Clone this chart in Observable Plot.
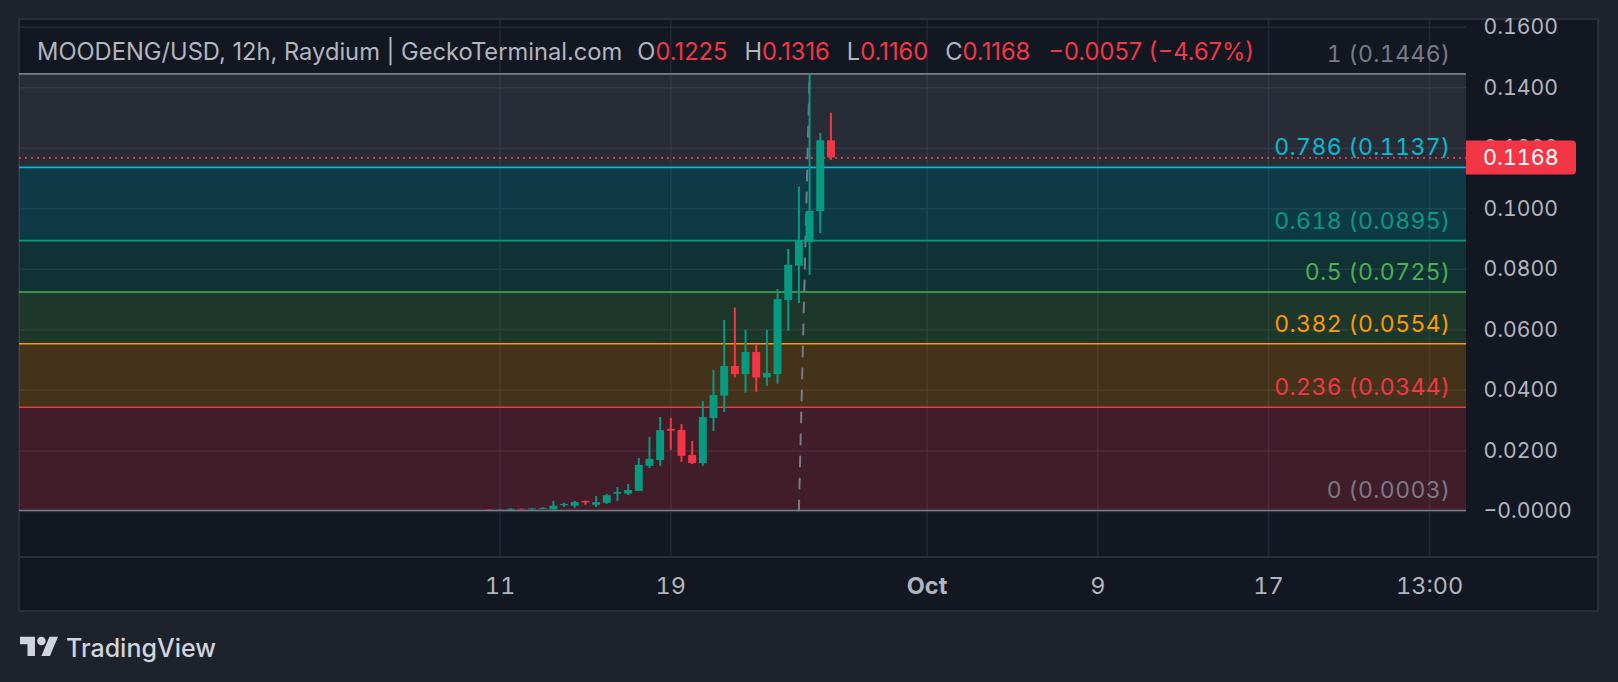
<!DOCTYPE html>
<html>
<head>
<meta charset="utf-8">
<script src="https://cdn.jsdelivr.net/npm/d3@7"></script>
<script src="https://cdn.jsdelivr.net/npm/@observablehq/plot@0.6"></script>
<style>
html, body { margin: 0; padding: 0; background: #1e222d; }
#wrap { position: relative; width: 1618px; height: 682px; overflow: hidden; font-family: Inter, "Noto Sans", sans-serif; }
#panel { position: absolute; left: 18px; top: 18px; width: 1581px; height: 594px; background: #131722; border: 2px solid #2a2e39; box-sizing: border-box; }
#chart { position: absolute; left: 0; top: 0; }
.tnum { font-variant-numeric: tabular-nums; }
</style>
</head>
<body>
<div id="wrap"><div id="panel"></div><div id="chart"></div></div>
<script>
// ---- data ----
const candleStart = Date.UTC(2024, 8, 10, 12); // first 12h candle
const opens  = [0.0004,0.0003,0.0004,0.0007,0.0005,0.0007,0.0005,0.0019,0.0017,0.0033,0.0020,0.0027,0.0057,0.0057,0.0066,0.0149,0.0168,0.0271,0.0267,0.0185,0.0158,0.0307,0.0381,0.0479,0.0452,0.0525,0.0441,0.0452,0.0697,0.0810,0.0888,0.0991,0.1225];
const highs  = [0.0005,0.0005,0.0009,0.0008,0.0009,0.0012,0.0033,0.0027,0.0033,0.0034,0.0049,0.0056,0.0079,0.0089,0.0175,0.0244,0.0310,0.0307,0.0287,0.0231,0.0363,0.0466,0.0631,0.0672,0.0599,0.0552,0.0598,0.0733,0.0866,0.1072,0.1446,0.1249,0.1316];
const lows   = [0.0003,0.0003,0.0004,0.0005,0.0005,0.0006,0.0004,0.0013,0.0010,0.0020,0.0013,0.0023,0.0033,0.0052,0.0066,0.0142,0.0149,0.0201,0.0162,0.0155,0.0149,0.0264,0.0327,0.0441,0.0391,0.0394,0.0413,0.0420,0.0595,0.0687,0.0780,0.0918,0.1160];
const closes = [0.0003,0.0004,0.0007,0.0005,0.0008,0.0010,0.0017,0.0023,0.0029,0.0028,0.0029,0.0052,0.0062,0.0069,0.0152,0.0172,0.0267,0.0265,0.0182,0.0158,0.0310,0.0383,0.0479,0.0452,0.0525,0.0441,0.0456,0.0700,0.0813,0.0895,0.0991,0.1225,0.1168];

const fibRatios = ["1", "0.786", "0.618", "0.5", "0.382", "0.236", "0"];
const fibPrices = [0.1446, 0.1137, 0.0895, 0.0725, 0.0554, 0.0344, 0.0003];
const fibColors = ["#787b86", "#00bcd4", "#089981", "#4caf50", "#ff9800", "#f23645", "#787b86"];

const trendDates  = [Date.UTC(2024, 8, 25, 0), Date.UTC(2024, 8, 25, 12)];
const trendPrices = [0.0003, 0.1446];

const yTicks = [0, 0.02, 0.04, 0.06, 0.08, 0.10, 0.12, 0.14, 0.16];
const xTickDates  = [Date.UTC(2024, 8, 11), Date.UTC(2024, 8, 19), Date.UTC(2024, 9, 1), Date.UTC(2024, 9, 9), Date.UTC(2024, 9, 17), Date.UTC(2024, 9, 24, 13)];
const xTickLabels = ["11", "19", "Oct", "9", "17", "13:00"];
const xBoldLabels = ["Oct"];

const titleText = "MOODENG/USD, 12h, Raydium | GeckoTerminal.com";
const ohlcKeys   = ["O", "H", "L", "C"];
const ohlcValues = ["0.1225", "0.1316", "0.1160", "0.1168"];
const changeText = "\u22120.0057 (\u22124.67%)";
const lastPrice = 0.1168;

const xDomain = [Date.UTC(2024, 7, 19, 11, 51), Date.UTC(2024, 9, 26, 6, 29)];
const yDomain = [-0.015235, 0.16256];

// ---- derived tables ----
const UP = "#089981", DOWN = "#f23645";
const candles = opens.map((o, i) => ({
  date: new Date(candleStart + i * 12 * 3600e3),
  open: o, high: highs[i], low: lows[i], close: closes[i],
  color: closes[i] >= o ? UP : DOWN
}));
const levels = fibRatios.map((r, i) => ({ ratio: r, price: fibPrices[i], color: fibColors[i] }));
const bands = levels.slice(0, -1).map((d, i) => ({ hi: d.price, lo: levels[i + 1].price, color: d.color }));
const trend = trendDates.map((d, i) => ({ date: new Date(d), price: trendPrices[i] }));
const xTicks = xTickDates.map(d => new Date(d));
const labelOf = d => xTickLabels[xTicks.findIndex(t => +t === +d)];
const normalTicks = xTicks.filter(d => !xBoldLabels.includes(labelOf(d)));
const boldTicks = xTicks.filter(d => xBoldLabels.includes(labelOf(d)));

const priceTag = (index, scales, values, dims) => {
  const y = scales.y(lastPrice);
  const x0 = dims.width - dims.marginRight;
  const w = 110, h = 34, r = 4;
  const g = d3.create("svg:g");
  g.append("path")
    .attr("fill", DOWN)
    .attr("d", `M${x0},${y - h / 2}H${x0 + w - r}Q${x0 + w},${y - h / 2} ${x0 + w},${y - h / 2 + r}V${y + h / 2 - r}Q${x0 + w},${y + h / 2} ${x0 + w - r},${y + h / 2}H${x0}Z`);
  g.append("text")
    .attr("class", "tnum")
    .attr("x", x0 + 17).attr("y", y).attr("dy", "0.36em").attr("text-anchor", "start")
    .attr("fill", "#ffffff").attr("font-size", 21.6)
    .text(lastPrice.toFixed(4));
  return g.node();
};

const chart = Plot.plot({
  width: 1618, height: 682,
  marginLeft: 19, marginRight: 152, marginTop: 19, marginBottom: 125,
  style: { background: "transparent", fontFamily: "Inter, 'Noto Sans', sans-serif", overflow: "visible" },
  x: { type: "utc", domain: xDomain, axis: null },
  y: { domain: yDomain, axis: null },
  marks: [
    Plot.gridY(yTicks, { stroke: "#2a2e39", strokeOpacity: 0.75, strokeWidth: 1.5 }),
    Plot.gridX(xTicks, { stroke: "#2a2e39", strokeOpacity: 0.75, strokeWidth: 1.5 }),
    Plot.rect(bands, { y1: "lo", y2: "hi", fill: "color", fillOpacity: 0.21 }),
    Plot.ruleY(levels, { y: "price", stroke: "color", strokeWidth: 1.6 }),
    Plot.text(levels, {
      y: "price", text: d => `${d.ratio} (${d.price.toFixed(4)})`, fill: "color",
      frameAnchor: "right", textAnchor: "end", lineAnchor: "bottom", dx: -16, dy: -12, fontSize: 23
    }),
    Plot.ruleY([lastPrice], { stroke: DOWN, strokeDasharray: "2,4", strokeWidth: 1.8 }),
    Plot.line(trend, { x: "date", y: "price", stroke: "#787b86", strokeDasharray: "10,12", strokeWidth: 2 }),
    Plot.ruleX(candles, { x: "date", y1: "low", y2: "high", stroke: "color", strokeWidth: 2 }),
    Plot.ruleX(candles, { x: "date", y1: "open", y2: "close", stroke: "color", strokeWidth: 8 }),
    Plot.axisY(yTicks, {
      anchor: "right", tickSize: 0, tickPadding: 17, fontSize: 21.2, color: "#b2b5be",
      tickFormat: d => d === 0 ? "\u22120.0000" : d.toFixed(4)
    }),
    Plot.axisX(normalTicks, { anchor: "bottom", tickSize: 0, tickPadding: 20, fontSize: 23.5, color: "#b2b5be", tickFormat: labelOf }),
    Plot.axisX(boldTicks, { anchor: "bottom", tickSize: 0, tickPadding: 20, fontSize: 23.5, fontWeight: "bold", color: "#b2b5be", tickFormat: labelOf }),
    priceTag
  ]
});

document.getElementById("chart").appendChild(chart);
const svg = d3.select(chart);
svg.selectAll('[aria-label="y-axis tick label"]').attr("class", "tnum");
svg.selectAll('[aria-label="text"]').attr("class", "tnum").selectAll("text").attr("letter-spacing", 0.4);

// separator between plot and time axis
svg.append("line").attr("x1", 20).attr("x2", 1597).attr("y1", 557).attr("y2", 557)
  .attr("stroke", "#2a2e39").attr("stroke-width", 2);

// header legend
const header = svg.append("text").attr("x", 37).attr("y", 60).attr("text-anchor", "start")
  .attr("font-size", 23.7).attr("fill", "#b2b5be");
header.append("tspan").text(titleText);
ohlcKeys.forEach((k, i) => {
  header.append("tspan").attr("dx", i === 0 ? 15 : 17).text(k);
  header.append("tspan").attr("fill", DOWN).text(ohlcValues[i]);
});
header.append("tspan").attr("dx", 18).attr("fill", DOWN).text(changeText);

// TradingView logo
const logo = svg.append("g");
const icon = logo.append("g").attr("transform", "translate(20,632.4) scale(1.07)").attr("fill", "#d1d4dc");
icon.append("path").attr("d", "M14 22H7V11H0V4h14v18zM28 22h-8l7.5-18h8L28 22z");
icon.append("circle").attr("cx", 20).attr("cy", 8).attr("r", 4);
logo.append("text").attr("x", 66).attr("y", 657).attr("text-anchor", "start")
  .attr("font-size", 25).attr("font-weight", 500)
  .attr("fill", "#d1d4dc").text("TradingView");
</script>
</body>
</html>
